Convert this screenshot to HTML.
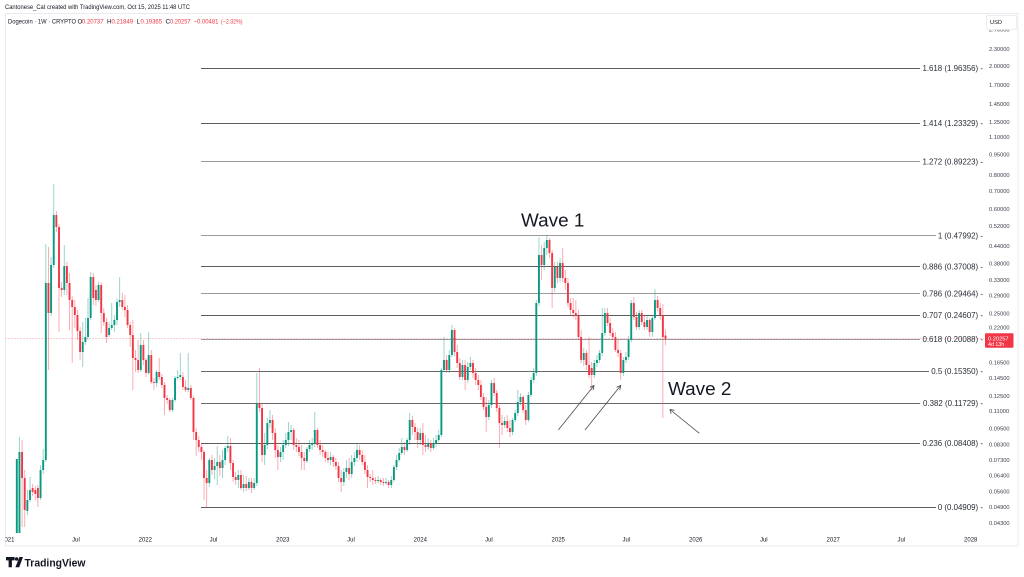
<!DOCTYPE html>
<html>
<head>
<meta charset="utf-8">
<style>
html,body{margin:0;padding:0;background:#fff;}
svg{display:block;}
text{font-family:"Liberation Sans",sans-serif;}
</style>
</head>
<body>
<svg id="s" width="1024" height="577" viewBox="0 0 1024 577" xmlns="http://www.w3.org/2000/svg">
<rect x="0" y="0" width="1024" height="577" fill="#ffffff"/>
<defs>
<clipPath id="plot"><rect x="5.5" y="14" width="978" height="519"/></clipPath>
<clipPath id="tclip"><rect x="5.5" y="530" width="978" height="16"/></clipPath>
</defs>

<!-- header -->
<text x="5" y="9" font-size="6.3" fill="#131722" textLength="185" lengthAdjust="spacingAndGlyphs">Cantonese_Cat created with TradingView.com, Oct 15, 2025 11:48 UTC</text>

<!-- frame -->
<rect x="5.5" y="13.5" width="1012.5" height="532.5" fill="none" stroke="#e9ebf0" stroke-width="1"/>

<!-- symbol line -->
<g font-size="6.3">
<text x="8" y="23.5" fill="#131722" textLength="68" lengthAdjust="spacingAndGlyphs">Dogecoin · 1W · CRYPTO</text>
<text x="77.5" y="23.5" fill="#131722">O</text>
<text x="82" y="23.5" fill="#f23645" textLength="21.5" lengthAdjust="spacingAndGlyphs">0.20737</text>
<text x="107" y="23.5" fill="#131722">H</text>
<text x="111.5" y="23.5" fill="#f23645" textLength="21.5" lengthAdjust="spacingAndGlyphs">0.21849</text>
<text x="136.5" y="23.5" fill="#131722">L</text>
<text x="140.5" y="23.5" fill="#f23645" textLength="21.5" lengthAdjust="spacingAndGlyphs">0.19365</text>
<text x="165.5" y="23.5" fill="#131722">C</text>
<text x="170" y="23.5" fill="#f23645" textLength="20.5" lengthAdjust="spacingAndGlyphs">0.20257</text>
<text x="193.5" y="23.5" fill="#f23645" textLength="25" lengthAdjust="spacingAndGlyphs">−0.00481</text>
<text x="221" y="23.5" fill="#f23645" textLength="21.5" lengthAdjust="spacingAndGlyphs">(−2.32%)</text>
</g>

<!-- fib lines -->
<g stroke-width="1" shape-rendering="crispEdges">
<line x1="201" y1="68.5" x2="920" y2="68.5" stroke="#5d5d5d"/>
<line x1="201" y1="123.5" x2="920" y2="123.5" stroke="#5d5d5d"/>
<line x1="201" y1="161.5" x2="920" y2="161.5" stroke="#9a9a9a"/>
<line x1="201" y1="235.5" x2="936" y2="235.5" stroke="#9a9a9a"/>
<line x1="201" y1="266.5" x2="920" y2="266.5" stroke="#5d5d5d"/>
<line x1="201" y1="293.5" x2="920" y2="293.5" stroke="#9a9a9a"/>
<line x1="201" y1="315.5" x2="920" y2="315.5" stroke="#5d5d5d"/>
<line x1="201" y1="339.5" x2="920" y2="339.5" stroke="#9a9a9a"/>
<line x1="201" y1="371.5" x2="929" y2="371.5" stroke="#6a6a6a"/>
<line x1="201" y1="403.5" x2="920" y2="403.5" stroke="#6a6a6a"/>
<line x1="201" y1="443.5" x2="920" y2="443.5" stroke="#5d5d5d"/>
<line x1="201" y1="507.5" x2="936" y2="507.5" stroke="#5d5d5d"/>
</g>

<!-- current price dotted line -->
<line x1="5.5" y1="338.5" x2="984" y2="338.5" stroke="#f23645" stroke-opacity="0.55" stroke-width="0.8" stroke-dasharray="1.2,1.8"/>

<!-- candles -->
<g id="candles" clip-path="url(#plot)"></g>

<!-- fib labels -->
<g font-size="7.9" fill="#2a2e39" text-anchor="end">
<text x="983" y="70.8">1.618 (1.96356) -</text>
<text x="983" y="126.2">1.414 (1.23329) -</text>
<text x="983" y="164.7">1.272 (0.89223) -</text>
<text x="983" y="238.5">1 (0.47992) -</text>
<text x="983" y="269.4">0.886 (0.37008) -</text>
<text x="983" y="296.5">0.786 (0.29464) -</text>
<text x="983" y="318">0.707 (0.24607) -</text>
<text x="983" y="342.1">0.618 (0.20088) -</text>
<text x="983" y="374.1">0.5 (0.15350) -</text>
<text x="983" y="406.1">0.382 (0.11729) -</text>
<text x="983" y="445.8">0.236 (0.08408) -</text>
<text x="983" y="509.8">0 (0.04909) -</text>
</g>

<!-- wave annotations -->
<text x="521" y="226.5" font-size="18.9" fill="#131722">Wave 1</text>
<text x="668" y="395" font-size="18.9" fill="#131722">Wave 2</text>
<g stroke="#4a4a4a" stroke-width="0.8" fill="none">
<line x1="558.3" y1="430" x2="594" y2="385.5"/>
<polyline points="589.8,387.2 594,385.5 593.2,390"/>
<line x1="585" y1="430" x2="620.7" y2="385.5"/>
<polyline points="616.5,387.2 620.7,385.5 619.9,390"/>
<line x1="699.3" y1="433.3" x2="670" y2="409.5"/>
<polyline points="671.2,413.8 670,409.5 674.4,410.3"/>
</g>

<!-- price axis labels -->
<g font-size="5.7" fill="#3a3e49">
<text x="989" y="31.5">2.70000</text>
<text x="989" y="51.2">2.30000</text>
<text x="989" y="67.8">2.00000</text>
<text x="989" y="87.2">1.70000</text>
<text x="989" y="106.1">1.45000</text>
<text x="989" y="123.8">1.25000</text>
<text x="989" y="139">1.10000</text>
<text x="989" y="156.4">0.95000</text>
<text x="989" y="176.9">0.80000</text>
<text x="989" y="192.8">0.70000</text>
<text x="989" y="211.1">0.60000</text>
<text x="989" y="228.1">0.52000</text>
<text x="989" y="248">0.44000</text>
<text x="989" y="265.5">0.38000</text>
<text x="989" y="282.2">0.33000</text>
<text x="989" y="297.6">0.29000</text>
<text x="989" y="315.3">0.25000</text>
<text x="989" y="329.5">0.22000</text>
<text x="989" y="364.7">0.16500</text>
<text x="989" y="380.1">0.14500</text>
<text x="989" y="397.8">0.12500</text>
<text x="989" y="413">0.11000</text>
<text x="989" y="430.4">0.09500</text>
<text x="989" y="446.5">0.08300</text>
<text x="989" y="461.8">0.07300</text>
<text x="989" y="477.4">0.06400</text>
<text x="989" y="493.3">0.05600</text>
<text x="989" y="509.2">0.04900</text>
<text x="989" y="524.8">0.04300</text>
</g>

<!-- USD box -->
<rect x="986.5" y="15.5" width="30" height="14" rx="1.5" fill="#ffffff" stroke="#e6e8ed" stroke-width="0.8"/>
<text x="990" y="24.2" font-size="5.7" fill="#131722">USD</text>

<!-- current price box -->
<rect x="985" y="333.3" width="28.5" height="14.4" rx="1" fill="#f23645"/>
<text x="988" y="340.3" font-size="5.7" fill="#ffffff">0.20257</text>
<text x="988" y="346.2" font-size="5.3" fill="#ffffff">4d 13h</text>

<!-- time axis -->
<g font-size="6" fill="#131722" text-anchor="middle">
<g clip-path="url(#tclip)"><text x="7.8" y="541.5">2021</text></g>
<text x="76" y="541.5">Jul</text>
<text x="145.3" y="541.5">2022</text>
<text x="213.5" y="541.5">Jul</text>
<text x="282.8" y="541.5">2023</text>
<text x="351" y="541.5">Jul</text>
<text x="420.3" y="541.5">2024</text>
<text x="488.9" y="541.5">Jul</text>
<text x="558.2" y="541.5">2025</text>
<text x="626.3" y="541.5">Jul</text>
<text x="695.7" y="541.5">2026</text>
<text x="763.8" y="541.5">Jul</text>
<text x="833.2" y="541.5">2027</text>
<text x="901.3" y="541.5">Jul</text>
<text x="970.7" y="541.5">2028</text>
</g>

<!-- TradingView logo -->
<g fill="#131722">
<path d="M6 557 H14.6 V560.4 H11.9 V567.3 H8.6 V560.4 H6 Z"/>
<circle cx="16.6" cy="559" r="1.7"/>
<path d="M19.4 557 H23 L19.2 567.3 H15.4 Z"/>
</g>
<text x="24.5" y="566.5" font-size="11.3" font-weight="bold" fill="#131722" textLength="61" lengthAdjust="spacingAndGlyphs">TradingView</text>

<script>
(function(){
var D=[
[3,600,459,600,459],[4,540,437,540,452],[5,452,440,527,478],[6,478,470,527,510],[7,511,490,515,500],
[8,500,477,502,490],[9,488,484,496,492],[10,490,486,500,494],[11,488,485,507,498],[12,498,465,500,470],
[13,470,449,474,460],[14,460,244,462,283],[15,283,247,370,313],[16,313,257,316,265],[17,265,184,268,215],
[18,215,211,232,227],[19,227,224,332,288],[20,288,282,297,290],[21,290,245,295,266],[22,266,262,295,283],
[23,283,273,330,300],[24,300,296,363,307],[25,307,300,328,315],[26,315,310,340,331],[27,331,327,360,352],
[28,352,322,367,342],[29,342,318,345,337],[30,337,298,340,318],[31,318,272,320,277],[32,277,273,305,298],
[33,290,285,306,300],[34,300,282,302,285],[35,285,282,333,313],[36,313,308,326,322],[37,322,318,343,337],
[38,335,322,337,328],[39,328,303,330,325],[40,325,315,332,320],[41,320,298,325,302],[42,302,277,307,300],
[43,300,293,310,307],[44,307,295,317,310],[45,310,305,328,325],[46,325,322,347,335],[47,335,320,390,358],
[48,358,350,372,360],[49,360,340,373,370],[50,370,333,372,345],[51,345,340,365,360],[52,360,358,377,373],
[53,373,332,375,355],[54,355,350,384,382],[55,382,378,390,383],[56,383,370,387,372],[57,372,358,380,377],
[58,377,374,388,385],[59,385,382,415,398],[60,398,395,404,400],[61,400,398,412,410],[62,410,398,412,400],
[63,400,376,402,378],[64,378,370,380,377],[65,377,353,380,375],[66,377,372,390,387],[67,387,380,392,390],
[68,390,353,392,388],[69,388,385,400,398],[70,398,396,440,432],[71,432,428,456,440],[72,440,436,452,447],
[73,447,443,460,452],[74,452,450,500,478],[75,478,470,507,483],[76,483,458,487,460],[77,460,455,475,470],
[78,470,458,479,466],[79,466,446,485,462],[80,462,455,476,468],[81,468,450,478,460],[82,460,446,465,448],
[83,448,436,452,446],[84,446,438,470,463],[85,463,460,482,477],[86,477,472,485,480],[87,480,470,488,475],
[88,475,470,490,488],[89,488,475,492,484],[90,484,476,491,488],[91,488,478,490,482],[92,482,478,493,488],
[93,488,478,490,483],[94,483,373,486,403],[95,403,368,412,408],[96,408,403,462,455],[97,455,433,465,445],
[98,445,418,449,423],[99,423,410,428,420],[100,420,415,440,433],[101,433,428,458,450],[102,450,445,470,457],
[103,457,447,462,452],[104,452,440,460,445],[105,445,433,448,440],[106,440,422,446,432],[107,432,425,440,430],
[108,430,428,450,445],[109,445,438,452,447],[110,447,440,456,452],[111,452,445,470,458],[112,458,452,470,461],
[113,461,447,463,449],[114,449,440,452,445],[115,445,438,450,443],[116,443,412,447,430],[117,430,428,448,445],
[118,445,440,455,450],[119,450,445,457,452],[120,452,450,462,458],[121,458,452,463,460],[122,460,452,465,457],
[123,457,455,467,462],[124,462,458,470,466],[125,466,462,482,478],[126,478,470,492,482],[127,482,468,486,472],
[128,472,460,478,468],[129,468,458,480,474],[130,474,455,478,462],[131,462,452,466,458],[132,458,443,462,450],
[133,450,445,460,455],[134,455,450,465,462],[135,462,455,474,470],[136,470,465,488,477],[137,477,474,482,478],
[138,478,470,485,480],[139,480,477,484,481],[140,481,476,483,480],[141,480,478,485,482],[142,482,478,486,483],
[143,483,478,485,482],[144,482,480,488,485],[145,485,476,488,480],[146,480,465,482,467],[147,467,455,470,460],
[148,460,448,462,453],[149,453,438,455,447],[150,447,442,455,450],[151,450,438,452,440],[152,440,413,445,420],
[153,420,416,435,427],[154,427,423,440,432],[155,432,428,448,440],[156,440,428,445,433],[157,433,423,455,445],
[158,445,435,452,447],[159,447,438,450,443],[160,443,440,452,448],[161,448,438,450,444],[162,444,435,447,440],
[163,440,430,442,435],[164,435,368,437,370],
[165,370,337,372,360],[166,360,355,373,370],[167,370,350,373,355],[168,355,325,357,330],[169,330,328,356,352],
[170,352,345,368,363],[171,363,358,380,377],[172,377,360,380,365],[173,365,360,390,380],[174,380,362,383,367],
[175,367,357,370,363],[176,363,360,378,373],[177,373,368,385,380],[178,380,375,390,385],[179,385,380,400,397],
[180,397,393,410,407],[181,407,397,432,417],[182,417,400,420,405],[183,405,380,408,383],[184,383,378,396,393],
[185,393,390,412,408],[186,408,405,448,423],[187,423,415,435,425],[188,425,417,428,421],[189,421,415,432,428],
[190,428,420,437,432],[191,432,418,435,420],[192,420,410,422,413],[193,413,390,416,402],[194,402,393,405,397],
[195,397,395,413,410],[196,410,405,425,420],[197,420,392,422,395],[198,395,377,397,380],[199,380,368,383,373],
[200,373,300,376,303],[201,303,237,306,255],[202,255,245,280,265],[203,265,242,270,248],[204,248,235,255,240],
[205,240,238,258,253],[206,253,250,308,288],[207,288,262,292,267],[208,267,262,283,278],[209,278,258,282,263],
[210,263,248,282,278],[211,278,270,290,283],[212,283,278,307,303],[213,303,298,315,310],
[214,310,298,318,313],[215,313,300,320,316],[216,316,310,340,337],[217,337,330,363,360],[218,360,348,366,353],
[219,353,350,370,365],[220,365,337,378,375],[221,368,362,390,375],[222,375,360,378,363],[223,363,355,367,360],
[224,360,350,363,353],[225,353,308,356,333],[226,333,308,336,313],[227,313,308,326,323],[228,323,318,336,333],
[229,333,328,340,337],[230,337,332,352,350],[231,350,340,357,353],[232,353,350,380,373],[233,373,357,376,360],
[234,360,352,363,357],[235,357,336,360,340],[236,340,300,342,303],[237,303,297,320,317],[238,317,312,330,327],
[239,327,310,330,313],[240,313,310,325,322],[241,322,315,330,327],[242,327,315,330,320],[243,320,318,337,332],
[244,332,316,337,318],[245,318,289,320,300],[246,300,296,311,308],[247,308,303,320,315],[248,315,304,418,337],
[249,335.6,329.4,345.2,338.8]
];
var G='#089981',R='#f23645',NS='http://www.w3.org/2000/svg';
var g=document.getElementById('candles');
var wicks=document.createElementNS(NS,'g'), bodies=document.createElementNS(NS,'g');
g.appendChild(wicks); g.appendChild(bodies);
D.forEach(function(d){
  var i=d[0],o=d[1],h=d[2],l=d[3],c=d[4];
  var x=8.9+2.637*i;
  var col=(c<=o)?G:R;
  var w=document.createElementNS(NS,'line');
  w.setAttribute('x1',x);w.setAttribute('x2',x);
  w.setAttribute('y1',Math.min(h,o,c));w.setAttribute('y2',Math.max(l,o,c));
  w.setAttribute('stroke',col);w.setAttribute('stroke-opacity','0.45');w.setAttribute('stroke-width','0.9');
  wicks.appendChild(w);
  var b=document.createElementNS(NS,'rect');
  var top=Math.min(o,c),ht=Math.max(Math.abs(o-c),0.8);
  b.setAttribute('x',x-0.95);b.setAttribute('y',top);b.setAttribute('width',1.9);b.setAttribute('height',ht);
  b.setAttribute('fill',col);
  bodies.appendChild(b);
});
})();
</script>
</svg>
</body>
</html>
